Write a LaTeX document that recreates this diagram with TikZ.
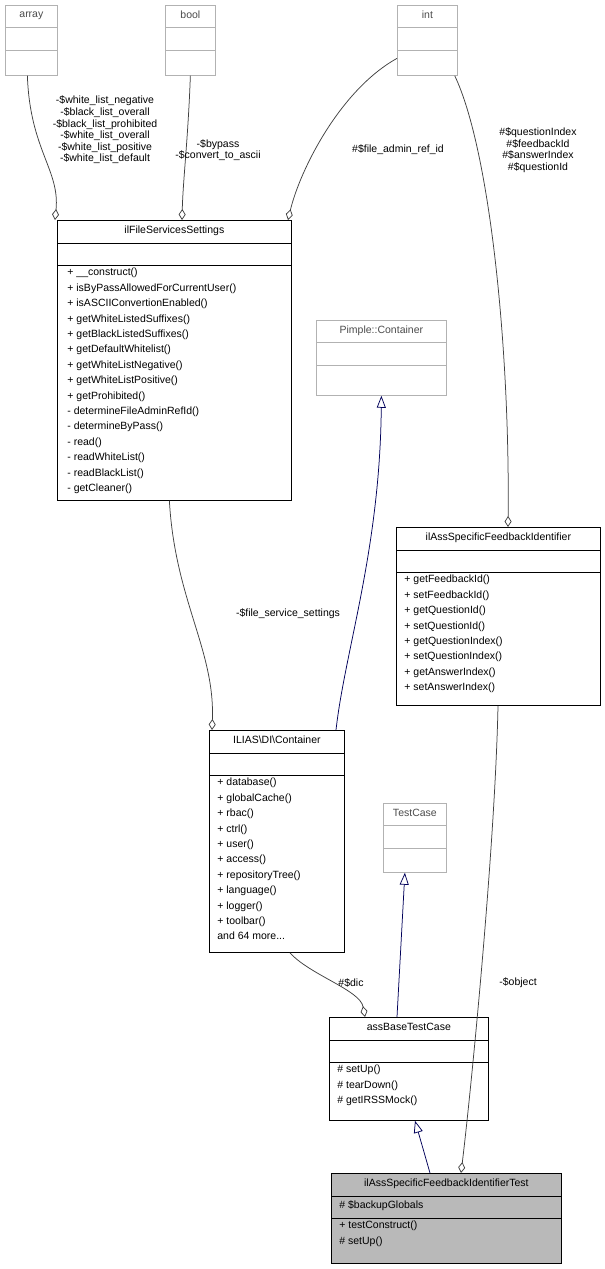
\documentclass[tikz,border=0pt]{standalone}
\usepackage{fontspec}
\setmainfont{Liberation Sans}
\usetikzlibrary{arrows.meta,positioning}

\begin{document}
\begin{tikzpicture}[x=1pt,y=1pt,line width=0.75pt,
    cls/.style={draw=black,fill=white,anchor=north west,inner sep=0},
    ext/.style={draw=gray!60,fill=white,anchor=north west,inner sep=0},
    cur/.style={draw=black,fill=gray!55,anchor=north west,inner sep=0},
    ttl/.style={anchor=north,inner sep=0,font=\fontsize{10.5}{12}\selectfont},
    mem/.style={anchor=north west,inner sep=0,align=left,font=\fontsize{10.5}{15.4}\selectfont},
    lbl/.style={align=center,inner sep=0,font=\fontsize{10.5}{11.6}\selectfont},
    use/.style={draw=black!75,-{Diamond[open,length=11,width=7]}},
    inh/.style={draw=blue!35!black,{Triangle[open,length=12,width=9]}-}
]
\useasboundingbox (0,0) rectangle (605,-1269);

% external types
\node[ext,minimum width=52,minimum height=70] (array) at (5,-5) {};
\node[ext,minimum width=50,minimum height=70] (bool) at (165,-5) {};
\node[ext,minimum width=60,minimum height=70] (int) at (397,-5) {};
\node[ext,minimum width=130,minimum height=75] (pimple) at (316,-320) {};
\node[ext,minimum width=63,minimum height=69] (testcase) at (383,-803) {};
\foreach \n/\t in {array/array,bool/bool,int/int,pimple/Pimple::Container,testcase/TestCase}{
  \node[ttl,text=black!70] at ([yshift=-6]\n.north) {\t};
  \draw[gray!60] ([yshift=-22]\n.north west) -- ([yshift=-22]\n.north east);
  \draw[gray!60] ([yshift=-45]\n.north west) -- ([yshift=-45]\n.north east);
}

% classes
\node[cls,minimum width=234,minimum height=280] (fss) at (57,-220) {};
\node[ttl] at ([yshift=-6]fss.north) {ilFileServicesSettings};
\draw ([yshift=-23]fss.north west) -- ([yshift=-23]fss.north east);
\draw ([yshift=-45]fss.north west) -- ([yshift=-45]fss.north east);
\node[mem] at ([xshift=10,yshift=-48]fss.north west) {+ \_\_construct()\\+ isByPassAllowedForCurrentUser()\\+ isASCIIConvertionEnabled()\\+ getWhiteListedSuffixes()\\+ getBlackListedSuffixes()\\+ getDefaultWhitelist()\\+ getWhiteListNegative()\\+ getWhiteListPositive()\\+ getProhibited()\\- determineFileAdminRefId()\\- determineByPass()\\- read()\\- readWhiteList()\\- readBlackList()\\- getCleaner()};

\node[cls,minimum width=204,minimum height=178] (sfi) at (396,-527) {};
\node[ttl] at ([yshift=-6]sfi.north) {ilAssSpecificFeedbackIdentifier};
\draw ([yshift=-23]sfi.north west) -- ([yshift=-23]sfi.north east);
\draw ([yshift=-45]sfi.north west) -- ([yshift=-45]sfi.north east);
\node[mem] at ([xshift=8,yshift=-48]sfi.north west) {+ getFeedbackId()\\+ setFeedbackId()\\+ getQuestionId()\\+ setQuestionId()\\+ getQuestionIndex()\\+ setQuestionIndex()\\+ getAnswerIndex()\\+ setAnswerIndex()};

\node[cls,minimum width=135,minimum height=222] (dic) at (209,-730) {};
\node[ttl] at ([yshift=-6]dic.north) {ILIAS\textbackslash DI\textbackslash Container};
\draw ([yshift=-23]dic.north west) -- ([yshift=-23]dic.north east);
\draw ([yshift=-45]dic.north west) -- ([yshift=-45]dic.north east);
\node[mem] at ([xshift=8,yshift=-48]dic.north west) {+ database()\\+ globalCache()\\+ rbac()\\+ ctrl()\\+ user()\\+ access()\\+ repositoryTree()\\+ language()\\+ logger()\\+ toolbar()\\and 64 more...};

\node[cls,minimum width=159,minimum height=103] (base) at (329,-1017) {};
\node[ttl] at ([yshift=-6]base.north) {assBaseTestCase};
\draw ([yshift=-23]base.north west) -- ([yshift=-23]base.north east);
\draw ([yshift=-45]base.north west) -- ([yshift=-45]base.north east);
\node[mem] at ([xshift=8,yshift=-48]base.north west) {\# setUp()\\\# tearDown()\\\# getIRSSMock()};

\node[cur,minimum width=230,minimum height=90] (test) at (331,-1173) {};
\node[ttl] at ([yshift=-6]test.north) {ilAssSpecificFeedbackIdentifierTest};
\draw ([yshift=-23]test.north west) -- ([yshift=-23]test.north east);
\draw ([yshift=-45]test.north west) -- ([yshift=-45]test.north east);
\node[mem] at ([xshift=8,yshift=-27]test.north west) {\# \$backupGlobals};
\node[mem] at ([xshift=8,yshift=-48]test.north west) {+ testConstruct()\\\# setUp()};

% connectors
\coordinate (fssA) at (55,-220);
\coordinate (fssB) at (182,-220);
\coordinate (fssC) at (288,-220);
\draw[use] ([xshift=-4]array.south) .. controls (30,-150) and (60,-170) .. (fssA);
\node[lbl] (arrlbl) at (105,-130) {-\$white\_list\_negative\\-\$black\_list\_overall\\-\$black\_list\_prohibited\\-\$white\_list\_overall\\-\$white\_list\_positive\\-\$white\_list\_default};
\draw[use] (bool.south) .. controls (188,-140) and (183,-180) .. (fssB);
\node[lbl] (boollbl) at (218,-150) {-\$bypass\\-\$convert\_to\_ascii};
\draw[use] ([yshift=-18]int.west) .. controls (340,-90) and (300,-170) .. (fssC);
\node[lbl] (intlbl1) at (398,-150) {\#\$file\_admin\_ref\_id};
\draw[use] ([xshift=-3]int.south east) .. controls (490,-150) and (510,-350) .. ([xshift=112]sfi.north west);
\node[lbl] (intlbl2) at (538,-150) {\#\$questionIndex\\\#\$feedbackId\\\#\$answerIndex\\\#\$questionId};
\draw[inh] (pimple.south) .. controls (380,-550) and (345,-650) .. ([xshift=127]dic.north west);
\draw[use] ([xshift=-5]fss.south) .. controls (175,-600) and (215,-650) .. ([xshift=3]dic.north west);
\node[lbl] (fsslbl) at (288,-614) {-\$file\_service\_settings};
\draw[use] ([xshift=13]dic.south) .. controls (310,-975) and (360,-990) .. ([xshift=36]base.north west);
\node[lbl] (diclbl) at (351,-983) {\#\$dic};
\draw[inh] ([xshift=-10]testcase.south) -- ([xshift=68]base.north west);
\draw[inh] ([xshift=86]base.south west) -- ([xshift=99]test.north west);
\draw[use] ([xshift=102]sfi.south west) .. controls (495,-850) and (470,-1100) .. ([xshift=130]test.north west);
\node[lbl] (objlbl) at (518,-983) {-\$object};
\end{tikzpicture}
\end{document}
